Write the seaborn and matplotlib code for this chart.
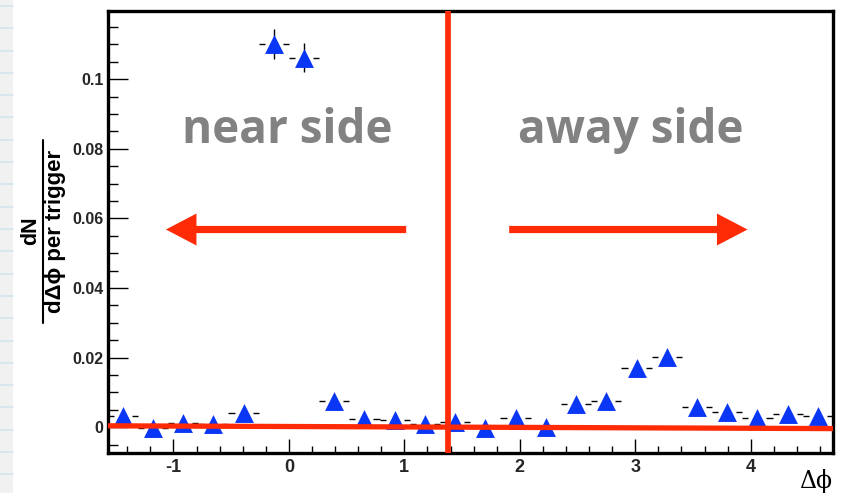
import numpy as np
import matplotlib
matplotlib.use("Agg")
import matplotlib.pyplot as plt
import seaborn as sns
from matplotlib.ticker import MultipleLocator, FuncFormatter
from matplotlib.patches import Rectangle, ArrowStyle
from matplotlib.lines import Line2D

# Delta-phi bin centres (24 bins of width pi/12 spanning -pi/2 .. 3pi/2)
dphi = [-1.4399, -1.1781, -0.9163, -0.6545, -0.3927, -0.1309, 0.1309, 0.3927,
        0.6545, 0.9163, 1.1781, 1.4399, 1.7017, 1.9635, 2.2253, 2.4871,
        2.7489, 3.0107, 3.2725, 3.5343, 3.7961, 4.0579, 4.3197, 4.5815]
per_trigger = [0.0032, -0.0002, 0.0011, 0.0008, 0.0040, 0.1101, 0.1062, 0.0074,
               0.0024, 0.0021, 0.0009, 0.0016, -0.0003, 0.0026, 0.0000, 0.0067,
               0.0074, 0.0171, 0.0202, 0.0059, 0.0044, 0.0025, 0.0039, 0.0031]
stat_err = [0.0015, 0.0015, 0.0015, 0.0015, 0.0015, 0.0042, 0.0041, 0.0015,
            0.0015, 0.0015, 0.0015, 0.0015, 0.0015, 0.0015, 0.0015, 0.0015,
            0.0015, 0.0020, 0.0020, 0.0015, 0.0015, 0.0015, 0.0015, 0.0015]
bin_half_width = np.pi / 24

x_range = (-np.pi / 2, 3 * np.pi / 2)
y_range = (-0.0075, 0.1195)
divider_x = 1.376                 # boundary between near and away side
baseline_ends = (0.0004, -0.0004)  # zero-level guide line, left and right end
near_arrow = (1.016, -1.065)       # tail, tip
away_arrow = (1.908, 3.972)
arrow_y = 0.0568
label_y = 0.0817
near_label_x = -0.016
away_label_x = 2.96

RED = "#ff2b06"
BLUE = "#0a36f5"
GREY_TEXT = "#828282"

sns.set_theme(style="white")
plt.rcParams["font.family"] = ["Liberation Sans", "DejaVu Sans"]
plt.rcParams["axes.unicode_minus"] = False

fig = plt.figure(figsize=(8.43, 4.93), dpi=100)
fig.patch.set_facecolor("white")

# ruled-paper strip along the left edge
fig.add_artist(Rectangle((0, 0), 12.7 / 843, 1, transform=fig.transFigure,
                         facecolor="#f1f1f1", edgecolor="none", zorder=0))
for ypix in np.arange(6, 493, 22.3):
    fig.add_artist(Line2D([0, 12.7 / 843], [1 - ypix / 493] * 2,
                          transform=fig.transFigure, color="#d3e5ee", lw=1.2, zorder=1))

ax = fig.add_axes([107.5 / 843, 1 - 453.3 / 493, (833 - 107.5) / 843, (453.3 - 11.3) / 493])
ax.set_facecolor("white")
ax.set_xlim(*x_range)
ax.set_ylim(*y_range)

x = np.asarray(dphi)
y = np.asarray(per_trigger)
ey = np.asarray(stat_err)
gap = 0.078  # error-bar gap around the marker (data units in x)

# vertical statistical errors (behind the markers)
ax.vlines(x, y - ey, y + ey, color="black", lw=1.0, zorder=3)
# horizontal bin-width bars, interrupted around the marker
ax.hlines(y, x - bin_half_width, x - gap, color="black", lw=1.0, zorder=3)
ax.hlines(y, x + gap, x + bin_half_width, color="black", lw=1.0, zorder=3)

sns.scatterplot(x=x, y=y, marker="^", s=185, color=BLUE, linewidth=0,
                ax=ax, zorder=4, legend=False)

# red guide lines
ax.plot(list(x_range), list(baseline_ends), color=RED, lw=3.8, zorder=5,
        solid_capstyle="butt")
ax.axvline(divider_x, color=RED, lw=4.1, zorder=5)

# arrows
style = ArrowStyle("simple", head_length=2.2, head_width=2.3, tail_width=0.52)
for tail, tip in [near_arrow, away_arrow]:
    ax.annotate("", xy=(tip, arrow_y), xytext=(tail, arrow_y),
                arrowprops=dict(arrowstyle=style, color=RED, lw=0,
                                shrinkA=0, shrinkB=0, mutation_scale=10),
                zorder=6)

# side labels
for xx, txt in [(near_label_x, "near side"), (away_label_x, "away side")]:
    ax.text(xx, label_y, txt, ha="center", va="baseline", fontsize=33,
            fontweight="bold", color=GREY_TEXT, family=["Open Sans", "DejaVu Sans"])

# axes styling
for sp in ax.spines.values():
    sp.set_visible(True)
    sp.set_color("black")
    sp.set_linewidth(2.4)

ax.xaxis.set_major_locator(MultipleLocator(1))
ax.xaxis.set_minor_locator(MultipleLocator(0.2))
ax.yaxis.set_major_locator(MultipleLocator(0.02))
ax.yaxis.set_minor_locator(MultipleLocator(0.005))
ax.yaxis.set_major_formatter(FuncFormatter(lambda v, _: "0" if abs(v) < 1e-9 else f"{v:g}"))
ax.xaxis.set_major_formatter(FuncFormatter(lambda v, _: f"{v:g}"))

ax.tick_params(which="both", direction="in", top=False, right=False,
               bottom=True, left=True, width=1.0, color="black")
ax.tick_params(axis="x", which="major", length=10, labelsize=13, pad=4)
ax.tick_params(axis="x", which="minor", length=5)
ax.tick_params(axis="y", which="major", length=14.4, labelsize=11.5, pad=3)
ax.tick_params(axis="y", which="minor", length=7.2)
for lab in ax.get_xticklabels() + ax.get_yticklabels():
    lab.set_fontweight("bold")

ax.grid(False)

# x-axis title at the lower right
fig.text(832 / 843, 1 - 481 / 493, "\u0394\u03d5", ha="right", va="center",
         fontsize=17, family=["DejaVu Serif"], color="black")

# y-axis title as a stacked fraction
yc = 1 - 231 / 493
fig.text(31 / 843, yc, "dN", rotation=90, ha="center", va="center",
         fontsize=15.5, fontweight="bold", color="black")
fig.add_artist(Line2D([43 / 843, 43 / 843], [1 - 323 / 493, 1 - 140 / 493],
                      transform=fig.transFigure, color="black", lw=1.5))
fig.text(55 / 843, yc, "d\u0394\u03d5 per trigger", rotation=90, ha="center",
         va="center", fontsize=16, fontweight="bold", color="black")

fig.savefig("out.png", dpi=100)
